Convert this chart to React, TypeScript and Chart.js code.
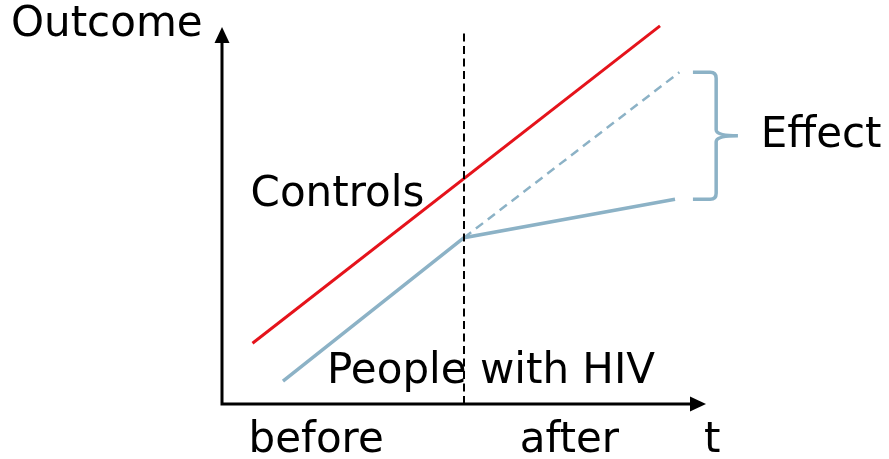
import React, { useEffect, useRef } from "react";
import { Chart, registerables } from "chart.js";

Chart.register(...registerables);

// Conceptual difference-in-differences diagram (data units 0..100 on both axes)
const controlsX = [6.3, 90.5];
const controlsY = [16.1, 100.3];
const hivX = [12.6, 50, 93.6];
const hivY = [6.1, 44.1, 54.3];
const counterfactualX = [50, 94.5];
const counterfactualY = [44.1, 88.0];
const interventionX = [50, 50];
const interventionY = [0, 98.7];

const axisLabels = ["Outcome", "t"];
const periodLabels = ["before", "after"];
const seriesLabels = ["Controls", "People with HIV", "Effect"];

// label anchors in data units [x, y]
const labelAnchors: [string, number, number][] = [
  [axisLabels[0], -43.6, 97.6],
  [axisLabels[1], 99.6, -12.7],
  [periodLabels[0], 5.5, -12.7],
  [periodLabels[1], 61.5, -12.7],
  [seriesLabels[0], 5.9, 52.5],
  [seriesLabels[1], 21.7, 5.6],
  [seriesLabels[2], 111.3, 68.2],
];

const RED = "#E5131B";
const BLUE = "#8CB2C6";

const zip = (xs: number[], ys: number[]) => xs.map((x, i) => ({ x, y: ys[i] }));

const overlayPlugin = {
  id: "diagramOverlay",
  afterDatasetsDraw(chart: any) {
    const { ctx, chartArea, scales } = chart;
    const xs = scales.x;
    const ys = scales.y;
    const { left, right, top, bottom } = chartArea;
    ctx.save();
    // axes
    ctx.strokeStyle = "#000";
    ctx.fillStyle = "#000";
    ctx.lineWidth = 3;
    ctx.beginPath();
    ctx.moveTo(left, bottom + 1.5);
    ctx.lineTo(left, top + 14);
    ctx.moveTo(left - 1.5, bottom);
    ctx.lineTo(right - 14, bottom);
    ctx.stroke();
    // arrow heads
    ctx.beginPath();
    ctx.moveTo(left, top);
    ctx.lineTo(left - 7.5, top + 16);
    ctx.lineTo(left + 7.5, top + 16);
    ctx.closePath();
    ctx.fill();
    ctx.beginPath();
    ctx.moveTo(right, bottom);
    ctx.lineTo(right - 16, bottom - 7.5);
    ctx.lineTo(right - 16, bottom + 7.5);
    ctx.closePath();
    ctx.fill();

    // brace showing the effect
    const yTop = ys.getPixelForValue(counterfactualY[counterfactualY.length - 1]);
    const yBot = ys.getPixelForValue(hivY[hivY.length - 1]);
    const yMid = (yTop + yBot) / 2;
    const xStart = xs.getPixelForValue(97.3);
    const xSpine = xs.getPixelForValue(102.1);
    const xTip = xs.getPixelForValue(106.6);
    ctx.strokeStyle = BLUE;
    ctx.lineWidth = 3.5;
    ctx.beginPath();
    ctx.moveTo(xStart, yTop);
    ctx.lineTo(xSpine - 6, yTop);
    ctx.quadraticCurveTo(xSpine, yTop, xSpine, yTop + 6);
    ctx.lineTo(xSpine, yMid - 6);
    ctx.quadraticCurveTo(xSpine, yMid, xTip, yMid);
    ctx.moveTo(xTip, yMid);
    ctx.quadraticCurveTo(xSpine, yMid, xSpine, yMid + 6);
    ctx.lineTo(xSpine, yBot - 6);
    ctx.quadraticCurveTo(xSpine, yBot, xSpine - 6, yBot);
    ctx.lineTo(xStart, yBot);
    ctx.stroke();

    // texts
    ctx.fillStyle = "#000";
    ctx.font = '42px "DejaVu Sans"';
    ctx.textAlign = "left";
    ctx.textBaseline = "alphabetic";
    for (const [t, x, y] of labelAnchors) {
      ctx.fillText(t, xs.getPixelForValue(x), ys.getPixelForValue(y));
    }
    ctx.restore();
  },
};

export default function App() {
  const ref = useRef<HTMLCanvasElement | null>(null);
  useEffect(() => {
    if (!ref.current) return;
    const chart = new Chart(ref.current, {
      type: "scatter",
      data: {
        datasets: [
          {
            label: "Intervention",
            data: zip(interventionX, interventionY),
            showLine: true,
            borderColor: "#000",
            borderWidth: 2,
            borderDash: [8, 4.5],
            pointRadius: 0,
            clip: false,
          } as any,
          {
            label: seriesLabels[0],
            data: zip(controlsX, controlsY),
            showLine: true,
            borderColor: RED,
            borderWidth: 3,
            pointRadius: 0,
            clip: false,
          },
          {
            label: "Counterfactual",
            data: zip(counterfactualX, counterfactualY),
            showLine: true,
            borderColor: BLUE,
            borderWidth: 2.5,
            borderDash: [9, 6],
            pointRadius: 0,
            clip: false,
          },
          {
            label: seriesLabels[1],
            data: zip(hivX, hivY),
            showLine: true,
            borderColor: BLUE,
            borderWidth: 3.5,
            pointRadius: 0,
            clip: false,
          },
        ],
      },
      options: {
        animation: false,
        responsive: false,
        devicePixelRatio: 1,
        layout: { padding: { left: 222, right: 183, top: 27, bottom: 55 } },
        plugins: { legend: { display: false }, tooltip: { enabled: false } },
        scales: {
          x: { type: "linear", min: 0, max: 100, display: false },
          y: { type: "linear", min: 0, max: 100, display: false },
        },
      },
      plugins: [overlayPlugin],
    });
    return () => chart.destroy();
  }, []);
  return (
    <div style={{ position: "fixed", left: 0, top: 0, width: 889, height: 459, background: "#fff" }}>
      <canvas ref={ref} width={889} height={459} />
    </div>
  );
}
